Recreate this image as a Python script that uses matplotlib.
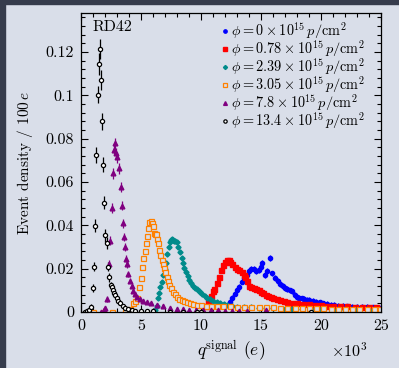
import numpy as np
import matplotlib
matplotlib.use("Agg")
import matplotlib.pyplot as plt
from matplotlib.ticker import MultipleLocator, FixedLocator
from matplotlib.lines import Line2D

plt.rcParams['font.family'] = 'serif'
plt.rcParams['font.serif'] = ['cmr10']
plt.rcParams['mathtext.fontset'] = 'cm'
plt.rcParams['axes.formatter.use_mathtext'] = True

# charge in units of 1000 e, density per 100 e
q_blue = [12.4, 12.6, 12.8, 13.0, 13.2, 13.4, 13.6, 13.8, 14.0, 14.2, 14.4, 14.6, 14.8, 15.0, 15.1,
          15.3, 15.5, 15.75, 15.95, 16.2, 16.4, 16.6, 16.8, 17.0, 17.2, 17.4, 17.6, 17.8, 18.0,
          18.2, 18.4, 18.6, 18.8, 19.0, 19.3, 19.6, 19.9, 20.2, 20.5, 20.8, 21.1, 21.4, 21.8,
          22.2, 22.6, 23.0, 23.4, 23.8, 24.3, 24.8]
v_blue = [0.0045, 0.0065, 0.0085, 0.0100, 0.0115, 0.0140, 0.0158, 0.0172, 0.0190, 0.0198, 0.0200,
          0.0188, 0.0195, 0.0210, 0.0228, 0.0172, 0.0188, 0.0250, 0.0178, 0.0158, 0.0145, 0.0128,
          0.0120, 0.0112, 0.0105, 0.0100, 0.0095, 0.0080, 0.0070, 0.0066, 0.0063, 0.0060, 0.0057,
          0.0055, 0.0052, 0.0048, 0.0044, 0.0040, 0.0037, 0.0034, 0.0032, 0.0030, 0.0028, 0.0026,
          0.0025, 0.0024, 0.0022, 0.0022, 0.0021, 0.0020]
e_blue = 0.0013

q_red = [10.4, 10.6, 10.8, 11.0, 11.1, 11.3, 11.5, 11.7, 11.85, 12.0, 12.15, 12.3, 12.45, 12.6,
         12.8, 13.0, 13.2, 13.4, 13.55, 13.7, 13.85, 14.0, 14.2, 14.4, 14.6, 14.8, 15.0, 15.2,
         15.4, 15.6, 15.8, 16.0, 16.3, 16.6, 16.9, 17.2, 17.6, 18.0, 18.5, 19.0, 19.5, 20.0,
         20.5, 21.0, 21.6, 22.2, 22.8, 23.4, 24.0, 24.6]
v_red = [0.0030, 0.0050, 0.0072, 0.0095, 0.0105, 0.0132, 0.0160, 0.0194, 0.0215, 0.0232, 0.0240,
         0.0238, 0.0230, 0.0222, 0.0210, 0.0198, 0.0192, 0.0186, 0.0172, 0.0160, 0.0142, 0.0120,
         0.0114, 0.0110, 0.0105, 0.0100, 0.0092, 0.0086, 0.0080, 0.0074, 0.0068, 0.0063, 0.0058,
         0.0055, 0.0050, 0.0047, 0.0043, 0.0040, 0.0037, 0.0035, 0.0033, 0.0031, 0.0029, 0.0028,
         0.0027, 0.0026, 0.0025, 0.0024, 0.0022, 0.0021]
e_red = 0.0006

q_teal = [6.2, 6.3, 6.4, 6.5, 6.6, 6.73, 6.86, 6.97, 7.08, 7.2, 7.3, 7.38, 7.47, 7.56, 7.66, 7.75,
          7.86, 7.97, 8.1, 8.25, 8.38, 8.5, 8.62, 8.75, 8.9, 9.03, 9.2, 9.36, 9.5, 9.65, 9.8, 9.95,
          10.1, 10.3, 10.5, 10.75, 11.0, 11.3, 11.6, 11.9, 12.2, 12.6, 13.0, 13.6, 14.2, 14.8,
          15.4, 16.0, 16.8, 17.6, 18.4, 19.2, 20.0, 21.0, 22.0, 23.0, 24.0, 24.8]
v_teal = [0.0010, 0.0030, 0.0063, 0.0090, 0.0114, 0.0140, 0.0170, 0.0200, 0.0225, 0.0270, 0.0300,
          0.0324, 0.0332, 0.0335, 0.0332, 0.0330, 0.0328, 0.0325, 0.0300, 0.0278, 0.0250, 0.0225,
          0.0205, 0.0186, 0.0165, 0.0148, 0.0132, 0.0120, 0.0110, 0.0104, 0.0098, 0.0094, 0.0085,
          0.0076, 0.0066, 0.0058, 0.0050, 0.0045, 0.0040, 0.0035, 0.0032, 0.0028, 0.0025, 0.0023,
          0.0021, 0.0019, 0.0018, 0.0017, 0.0016, 0.0015, 0.0014, 0.0013, 0.0012, 0.0011, 0.0010,
          0.0010, 0.0009, 0.0009]
e_teal = 0.0009

q_orange = [1.0, 1.8, 2.6, 3.7, 4.1, 4.36, 4.5, 4.64, 4.86, 4.97, 5.06, 5.2, 5.33, 5.45, 5.5, 5.6,
            5.7, 5.8, 5.9, 5.98, 6.08, 6.18, 6.25, 6.35, 6.44, 6.52, 6.62, 6.72, 6.82, 6.9, 7.0,
            7.14, 7.25, 7.36, 7.5, 7.64, 7.8, 7.97, 8.2, 8.4, 8.6, 8.8, 9.1, 9.36, 9.7, 10.0, 10.4,
            10.8, 11.3, 11.8, 12.4, 13.0, 13.6, 14.2, 14.8, 15.4, 16.0, 16.6, 17.2, 17.8, 18.4,
            19.0, 19.6, 20.2, 20.8, 21.4, 22.0, 22.6, 23.2, 23.8, 24.4, 24.9]
v_orange = [0.0, 0.0, 0.0, 0.0, 0.0015, 0.0040, 0.0050, 0.0063, 0.0114, 0.0155, 0.0209, 0.0248,
            0.0283, 0.0317, 0.0352, 0.0386, 0.0417, 0.0418, 0.0412, 0.0395, 0.0366, 0.0362,
            0.0360, 0.0335, 0.0317, 0.0286, 0.0262, 0.0240, 0.0220, 0.0201, 0.0185, 0.0163,
            0.0143, 0.0125, 0.0110, 0.0094, 0.0082, 0.0070, 0.0062, 0.0055, 0.0050, 0.0045,
            0.0041, 0.0037, 0.0034, 0.0032, 0.0030, 0.0029, 0.0028, 0.0027, 0.0026, 0.0025,
            0.0024, 0.0023, 0.0022, 0.0022, 0.0021, 0.0020, 0.0020, 0.0019, 0.0018, 0.0018,
            0.0017, 0.0017, 0.0016, 0.0016, 0.0015, 0.0015, 0.0015, 0.0014, 0.0014, 0.0014]
e_orange = 0.0008

q_purple = [1.7, 1.9, 2.0, 2.19, 2.36, 2.42, 2.6, 2.69, 2.75, 2.83, 2.92, 3.0, 3.19, 3.3, 3.39,
            3.47, 3.58, 3.67, 3.75, 3.8, 3.94, 4.08, 4.25, 4.36, 4.5, 4.64, 4.9, 5.2, 5.47, 5.8,
            6.3, 6.8, 7.4, 8.0, 8.5, 9.0, 9.6, 10.2, 10.8, 11.4, 12.0, 12.6, 13.2, 13.8, 15.4]
v_purple = [0.0, 0.0010, 0.0020, 0.0060, 0.0220, 0.0330, 0.0480, 0.0640, 0.0748, 0.0778, 0.0732,
            0.0715, 0.0663, 0.0578, 0.0490, 0.0410, 0.0345, 0.0300, 0.0245, 0.0220, 0.0175,
            0.0145, 0.0120, 0.0098, 0.0085, 0.0068, 0.0060, 0.0052, 0.0045, 0.0040, 0.0033,
            0.0027, 0.0020, 0.0016, 0.0012, 0.0010, 0.0009, 0.0008, 0.0007, 0.0007, 0.0006,
            0.0006, 0.0006, 0.0006, 0.0008]
e_purple = [0.0, 0.0005, 0.0007, 0.0012, 0.0018, 0.0020, 0.0022, 0.0024, 0.0025, 0.0026, 0.0025,
            0.0025, 0.0024, 0.0022, 0.0021, 0.0020, 0.0018, 0.0017, 0.0016, 0.0015, 0.0013,
            0.0012, 0.0011, 0.0010, 0.0009, 0.0008, 0.0008, 0.0007, 0.0007, 0.0006, 0.0006,
            0.0005, 0.0005, 0.0004, 0.0004, 0.0003, 0.0003, 0.0003, 0.0003, 0.0003, 0.0003,
            0.0003, 0.0003, 0.0003, 0.0003]

q_black = [0.3, 0.5, 0.65, 0.81, 0.97, 1.08, 1.17, 1.25, 1.39, 1.5, 1.58, 1.69, 1.78, 1.86, 1.94,
           2.0, 2.14, 2.28, 2.36, 2.47, 2.56, 2.65, 2.75, 2.83, 2.97, 3.1, 3.25, 3.47, 3.67, 3.94,
           4.22, 4.5, 5.0, 5.5, 6.0, 7.4, 8.5, 9.7, 10.0, 19.2]
v_black = [0.0, 0.0005, 0.0010, 0.0025, 0.0112, 0.0209, 0.0398, 0.0725, 0.1003, 0.1145, 0.1214,
           0.1070, 0.0880, 0.0680, 0.0505, 0.0355, 0.0317, 0.0209, 0.0160, 0.0125, 0.0114,
           0.0100, 0.0088, 0.0078, 0.0063, 0.0051, 0.0040, 0.0028, 0.0020, 0.0012, 0.0009,
           0.0005, 0.0004, 0.0003, 0.0003, 0.0002, 0.0002, 0.0002, 0.0002, 0.0002]
e_black = [0.0, 0.0005, 0.0008, 0.0012, 0.0018, 0.0022, 0.0030, 0.0035, 0.0040, 0.0050, 0.0045,
           0.0045, 0.0040, 0.0035, 0.0030, 0.0030, 0.0028, 0.0022, 0.0020, 0.0015, 0.0015,
           0.0013, 0.0012, 0.0011, 0.0010, 0.0009, 0.0008, 0.0007, 0.0006, 0.0005, 0.0004,
           0.0003, 0.0003, 0.0002, 0.0002, 0.0002, 0.0002, 0.0002, 0.0002, 0.0002]

labels = [r'$\phi = 0 \times 10^{15}\, p/\mathrm{cm}^2$',
          r'$\phi = 0.78 \times 10^{15}\, p/\mathrm{cm}^2$',
          r'$\phi = 2.39 \times 10^{15}\, p/\mathrm{cm}^2$',
          r'$\phi = 3.05 \times 10^{15}\, p/\mathrm{cm}^2$',
          r'$\phi = 7.8 \times 10^{15}\, p/\mathrm{cm}^2$',
          r'$\phi = 13.4 \times 10^{15}\, p/\mathrm{cm}^2$']

bg = '#d9dee9'
fig = plt.figure(figsize=(3.99, 3.68), dpi=100, facecolor=bg)
# dark screen border at top and left
fig.patches.append(plt.Rectangle((0, 0), 5 / 399, 1, transform=fig.transFigure,
                                 color='#363c4c', zorder=0))
fig.patches.append(plt.Rectangle((0, 1 - 4 / 368), 1, 4 / 368, transform=fig.transFigure,
                                 color='#363c4c', zorder=0))

ax = fig.add_axes([81 / 399, 56 / 368, 300 / 399, 299 / 368])
ax.set_facecolor(bg)

series = [
    (q_blue, v_blue, e_blue, dict(marker='o', color='#0000ff', ms=3)),
    (q_red, v_red, e_red, dict(marker='s', color='#ff0000', ms=3.6)),
    (q_teal, v_teal, e_teal, dict(marker='D', color='#008b8b', ms=2.6)),
    (q_orange, v_orange, e_orange, dict(marker='s', color='#ff8000', mfc=bg, mew=0.9, ms=3.6)),
    (q_purple, v_purple, e_purple, dict(marker='^', color='#800080', ms=3.4)),
    (q_black, v_black, e_black, dict(marker='o', color='black', mfc='white', mew=0.9, ms=3)),
]

handles = []
for (q, v, e, st), lab in zip(series, labels):
    ax.errorbar(q, v, yerr=e, ls='none', capsize=0, elinewidth=0.9, **st)
    handles.append(Line2D([], [], ls='none', label=lab, **st))

ax.set_xlim(0, 25)
ax.set_ylim(0, 0.138)
ax.xaxis.set_major_locator(FixedLocator([0, 5, 10, 15, 20, 25]))
ax.xaxis.set_minor_locator(MultipleLocator(1))
ax.yaxis.set_major_locator(FixedLocator([0, 0.02, 0.04, 0.06, 0.08, 0.1, 0.12]))
ax.yaxis.set_minor_locator(MultipleLocator(0.004))
ax.set_yticklabels(['0', '0.02', '0.04', '0.06', '0.08', '0.1', '0.12'])
ax.set_xticklabels(['0', '5', '10', '15', '20', '25'])
ax.tick_params(which='both', direction='in', top=True, right=True, labelsize=11.5, width=0.8)
ax.tick_params(which='major', length=5, pad=5)
ax.tick_params(which='minor', length=3)
for s in ax.spines.values():
    s.set_linewidth(0.9)

ax.set_ylabel(r'Event density / $100\,e$', fontsize=11)
ax.yaxis.set_label_coords(-0.153, 0.5)
ax.set_xlabel(r'$q^{\mathrm{signal}}$ $(e)$', fontsize=12.5, labelpad=4)
ax.text(0.953, -0.148, r'$\times 10^3$', transform=ax.transAxes, ha='right', va='baseline',
        fontsize=11.5)
ax.text(0.037, 0.975, 'RD42', transform=ax.transAxes, ha='left', va='top', fontsize=11.5)

ax.legend(handles=handles, loc='upper left', bbox_to_anchor=(0.468, 0.975), fontsize=10.3,
          frameon=False, handlelength=0.5, handletextpad=0.15, labelspacing=-0.2,
          borderaxespad=0, borderpad=0, markerscale=0.8)

fig.savefig('out.png', dpi=100, facecolor=bg)
